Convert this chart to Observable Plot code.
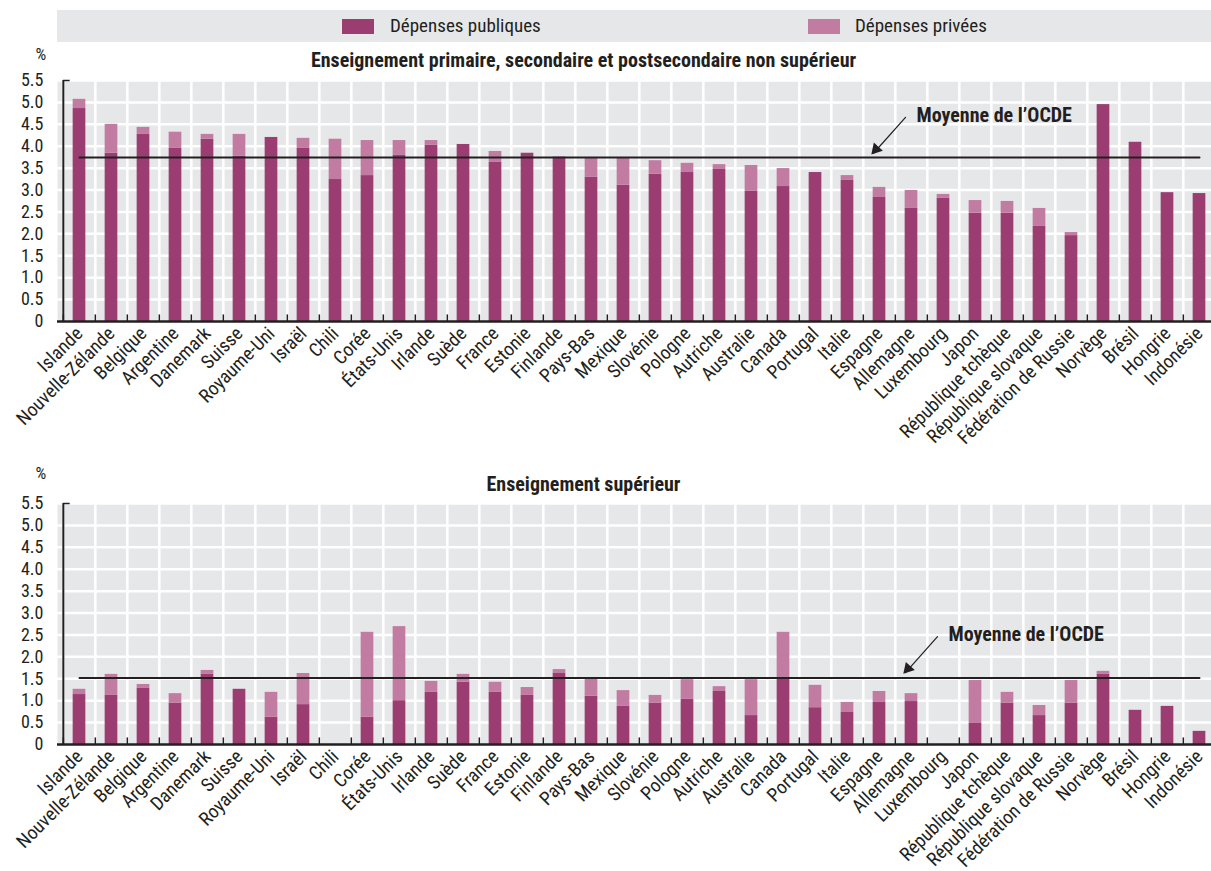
<!DOCTYPE html>
<html><head><meta charset="utf-8">
<script src="https://cdn.jsdelivr.net/npm/d3@7"></script>
<script src="https://cdn.jsdelivr.net/npm/@observablehq/plot@0.6"></script>
<style>
html,body{margin:0;padding:0;background:#fff;overflow:hidden;width:1211px;height:871px;}
body{font-family:"Roboto Condensed",Roboto,sans-serif;color:#231f20;position:relative;}
#legend{position:absolute;left:57px;top:10px;width:1154px;height:32px;background:#e6e7e8;}
.sw{position:absolute;top:9px;width:32px;height:15px;}
.lt{position:absolute;top:5px;font-size:19px;line-height:22px;color:#231f20;}
#top{position:absolute;left:0;top:0;width:1211px;overflow:hidden;}
#bottom{position:absolute;left:0;top:455px;width:1211px;overflow:hidden;}
</style></head><body>
<div id="legend"></div>
<div id="top"></div>
<div id="bottom"></div>
<script>
const countries = ["Islande","Nouvelle-Zélande","Belgique","Argentine","Danemark","Suisse","Royaume-Uni","Israël","Chili","Corée","États-Unis","Irlande","Suède","France","Estonie","Finlande","Pays-Bas","Mexique","Slovénie","Pologne","Autriche","Australie","Canada","Portugal","Italie","Espagne","Allemagne","Luxembourg","Japon","République tchèque","République slovaque","Fédération de Russie","Norvège","Brésil","Hongrie","Indonésie"];

// Enseignement primaire, secondaire et postsecondaire non supérieur
const publicPrimary  = [4.86,3.84,4.27,3.95,4.16,3.77,4.20,3.95,3.24,3.33,3.79,4.02,4.04,3.63,3.84,3.75,3.29,3.11,3.36,3.40,3.47,2.97,3.08,3.40,3.22,2.83,2.58,2.81,2.47,2.47,2.17,1.96,4.95,4.09,2.94,2.92];
const privatePrimary = [0.21,0.66,0.16,0.37,0.11,0.50,0,0.23,0.92,0.80,0.34,0.11,0,0.25,0,0,0.43,0.61,0.31,0.21,0.11,0.59,0.41,0,0.11,0.23,0.41,0.09,0.29,0.27,0.41,0.07,0,0,0,0];

// Enseignement supérieur
const publicTertiary  = [1.14,1.12,1.28,0.94,1.60,1.26,0.62,0.91,null,0.62,1.00,1.19,1.42,1.19,1.12,1.62,1.10,0.87,0.94,1.03,1.21,0.66,1.52,0.84,0.73,0.96,0.98,null,0.48,0.94,0.66,0.94,1.60,0.78,0.87,0.30];
const privateTertiary = [0.12,0.48,0.09,0.22,0.09,0,0.57,0.71,null,1.94,1.69,0.25,0.18,0.23,0.18,0.09,0.41,0.36,0.18,0.45,0.11,0.82,1.04,0.51,0.23,0.25,0.18,null,0.98,0.25,0.23,0.52,0.07,0,0,0];

const oecdAverage = [3.74, 1.52];
const yTicks = [0,0.5,1,1.5,2,2.5,3,3.5,4,4.5,5,5.5];
const seriesNames = ["Dépenses publiques","Dépenses privées"];
const seriesColors = ["#9b3d71","#c27ba1"];
const panelTitles = ["Enseignement primaire, secondaire et postsecondaire non supérieur","Enseignement supérieur"];
const avgLabel = "Moyenne de l’OCDE";
// annotation anchors (label position and arrow ends, in chart units)
const annotations = [
  {tx:"Allemagne", ty:4.70, x1:"Allemagne", y1:4.66, x2:"Espagne", y2:3.84},
  {tx:"Luxembourg", ty:2.51, x1:"Luxembourg", y1:2.46, x2:"Allemagne", y2:1.64}
];

const dark = "#231f20";
const bg = "#e6e7e8";
const font = '"Roboto Condensed",Roboto,sans-serif';

// legend
const legend = document.getElementById("legend");
[[285,333],[751,798]].forEach(([sx,tx],i)=>{
  const s=document.createElement("div"); s.className="sw"; s.style.left=sx+"px"; s.style.background=seriesColors[i]; legend.appendChild(s);
  const t=document.createElement("div"); t.className="lt"; t.style.left=tx+"px"; t.textContent=seriesNames[i]; legend.appendChild(t);
});

function panel(pub, priv, avg, title, ann, cfg) {
  const long = [];
  countries.forEach((c,i)=>{
    if (pub[i]!=null) long.push({c, s:seriesNames[0], v:pub[i]});
    if (priv[i]!=null) long.push({c, s:seriesNames[1], v:priv[i]});
  });
  const x0 = 57.3, bw = 32.33;
  const avgLine = [{c:countries[0], v:avg},{c:countries[countries.length-1], v:avg}];
  return Plot.plot({
    width: 1211, height: cfg.height,
    marginLeft: 57, marginRight: 0, marginTop: cfg.marginTop, marginBottom: cfg.marginBottom,
    style: {fontFamily: font, fontSize: "17px", color: dark, background: "transparent"},
    x: {type:"band", domain: countries, range:[x0, x0 + countries.length*bw], padding:0, axis:null},
    y: {domain:[0,5.5], axis:null},
    color: {domain: seriesNames, range: seriesColors},
    marks: [
      Plot.frame({fill: bg, stroke: null}),
      Plot.ruleX(countries, {x: d=>d, dx: -bw/2, stroke: "white", strokeWidth: 2.5}),
      Plot.ruleY(yTicks.slice(1), {stroke: "white", strokeWidth: 2.5}),
      Plot.barY(long, {x:"c", y:"v", z:"s", fill:"s", order: seriesNames, insetLeft: (bw-13)/2, insetRight: (bw-13)/2}),
      Plot.lineY(avgLine, {x:"c", y:"v", stroke: dark, strokeWidth: 2}),
      Plot.ruleX(countries, {x: d=>d, dx: -bw/2, y1: 0, y2: 0.15, stroke: dark, strokeWidth: 1.5}),
      Plot.ruleY([0], {stroke: dark, strokeWidth: 2.5}),
      Plot.ruleX([countries[0]], {x: d=>d, dx: -bw/2, y1: 0, y2: 5.5, stroke: dark, strokeWidth: 2}),
      Plot.tickY([5.5], {x: ()=>countries[0], insetRight: bw-7, stroke: dark, strokeWidth: 1.5}),
      Plot.axisY({ticks: yTicks, tickFormat: d => d===0 ? "0" : d.toFixed(1), tickSize: 0, tickPadding: 14, fontSize: 18, label: null}),
      Plot.axisX({tickRotate: -45, tickSize: 0, tickPadding: 9, fontSize: 19, label: null}),
      Plot.text(["%"], {frameAnchor: "top-left", dx: -22, dy: cfg.pctDy, fontSize: 17}),
      Plot.text([title], {frameAnchor: "top-left", dx: 526, dy: cfg.titleDy, fontSize: 20, fontWeight: "bold", textAnchor: "middle"}),
      Plot.arrow([ann], {x1:"x1", y1:"y1", x2:"x2", y2:"y2", dx: -6, bend: 0, headLength: 0, stroke: dark, strokeWidth: 1.2}),
      Plot.dot([ann], {x:"x2", y:"y2", dx: -3.5, dy: -4, symbol: "triangle", rotate: 222, r: 4.5, fill: dark, stroke: null}),
      Plot.text([ann], {x:"tx", y:"ty", text: ()=>avgLabel, dx: 5, textAnchor: "start", fontSize: 20, fontWeight: "bold", fill: dark})
    ]
  });
}

document.getElementById("top").appendChild(panel(publicPrimary, privatePrimary, oecdAverage[0], panelTitles[0], annotations[0], {height: 455, marginTop: 80, marginBottom: 134, pctDy: -33, titleDy: -28}));
document.getElementById("bottom").appendChild(panel(publicTertiary, privateTertiary, oecdAverage[1], panelTitles[1], annotations[1], {height: 416, marginTop: 48, marginBottom: 127, pctDy: -37, titleDy: -27}));
</script>
</body></html>
